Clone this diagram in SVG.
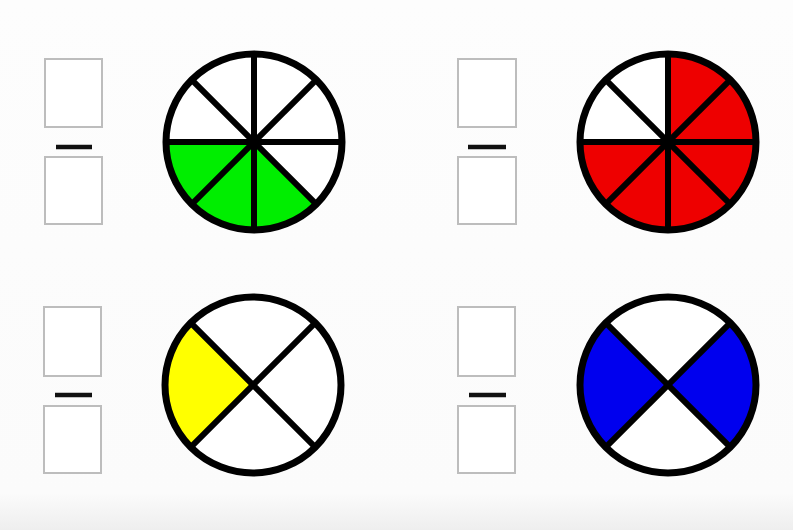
<svg xmlns="http://www.w3.org/2000/svg" width="793" height="530" viewBox="0 0 793 530">
  <defs>
    <linearGradient id="bg" x1="0" y1="0" x2="0" y2="1">
      <stop offset="0" stop-color="#fdfdfd"/>
      <stop offset="0.93" stop-color="#fbfbfb"/>
      <stop offset="1" stop-color="#eeeeee"/>
    </linearGradient>
  </defs>
  <style>
    .box { fill: #ffffff; stroke: #bdbdbd; stroke-width: 2; }
    .dash { stroke: #111111; stroke-width: 4.5; stroke-linecap: butt; }
    .rim { fill: none; stroke: #000000; stroke-width: 7; }
    .spoke { stroke: #000000; stroke-width: 6; }
    .hub { fill: #000000; }
  </style>
  <rect x="0" y="0" width="793" height="530" fill="url(#bg)"/>

  <g id="fraction-green">
    <rect class="box" x="45" y="59" width="57" height="68"/>
    <line class="dash" x1="56" y1="147" x2="92" y2="147"/>
    <rect class="box" x="45" y="157" width="57" height="67"/>
  </g>
  <g id="circle-green">
    <circle cx="254" cy="142" r="88" fill="#ffffff"/>
    <path d="M254,142 L166,142 A88,88 0 0 0 254,230 A88,88 0 0 0 316.2,204.2 Z" fill="#00ee00"/>
    <line class="spoke" x1="166" y1="142" x2="342" y2="142"/>
    <line class="spoke" x1="254" y1="54" x2="254" y2="230"/>
    <line class="spoke" x1="191.8" y1="79.8" x2="316.2" y2="204.2"/>
    <line class="spoke" x1="316.2" y1="79.8" x2="191.8" y2="204.2"/>
    <circle class="hub" cx="254" cy="142" r="7"/>
    <circle class="rim" cx="254" cy="142" r="88"/>
  </g>

  <g id="fraction-red">
    <rect class="box" x="458" y="59" width="58" height="68"/>
    <line class="dash" x1="468" y1="147" x2="506" y2="147"/>
    <rect class="box" x="458" y="157" width="58" height="67"/>
  </g>
  <g id="circle-red">
    <circle cx="668" cy="142" r="88" fill="#ffffff"/>
    <path d="M668,142 L668,54 A88,88 0 1 1 580,142 Z" fill="#ee0000"/>
    <line class="spoke" x1="580" y1="142" x2="756" y2="142"/>
    <line class="spoke" x1="668" y1="54" x2="668" y2="230"/>
    <line class="spoke" x1="605.8" y1="79.8" x2="730.2" y2="204.2"/>
    <line class="spoke" x1="730.2" y1="79.8" x2="605.8" y2="204.2"/>
    <circle class="hub" cx="668" cy="142" r="7"/>
    <circle class="rim" cx="668" cy="142" r="88"/>
  </g>

  <g id="fraction-yellow">
    <rect class="box" x="44" y="307" width="57" height="69"/>
    <line class="dash" x1="55" y1="395" x2="92" y2="395"/>
    <rect class="box" x="44" y="406" width="57" height="67"/>
  </g>
  <g id="circle-yellow">
    <circle cx="253" cy="385" r="88" fill="#ffffff"/>
    <path d="M253,385 L190.8,322.8 A88,88 0 0 0 190.8,447.2 Z" fill="#ffff00"/>
    <line class="spoke" x1="190.8" y1="322.8" x2="315.2" y2="447.2"/>
    <line class="spoke" x1="315.2" y1="322.8" x2="190.8" y2="447.2"/>
    <circle class="rim" cx="253" cy="385" r="88"/>
  </g>

  <g id="fraction-blue">
    <rect class="box" x="458" y="307" width="57" height="69"/>
    <line class="dash" x1="469" y1="395" x2="506" y2="395"/>
    <rect class="box" x="458" y="406" width="57" height="67"/>
  </g>
  <g id="circle-blue">
    <circle cx="668" cy="385" r="88" fill="#ffffff"/>
    <path d="M668,385 L605.8,322.8 A88,88 0 0 0 605.8,447.2 Z" fill="#0000ee"/>
    <path d="M668,385 L730.2,322.8 A88,88 0 0 1 730.2,447.2 Z" fill="#0000ee"/>
    <line class="spoke" x1="605.8" y1="322.8" x2="730.2" y2="447.2"/>
    <line class="spoke" x1="730.2" y1="322.8" x2="605.8" y2="447.2"/>
    <circle class="rim" cx="668" cy="385" r="88"/>
  </g>
</svg>
